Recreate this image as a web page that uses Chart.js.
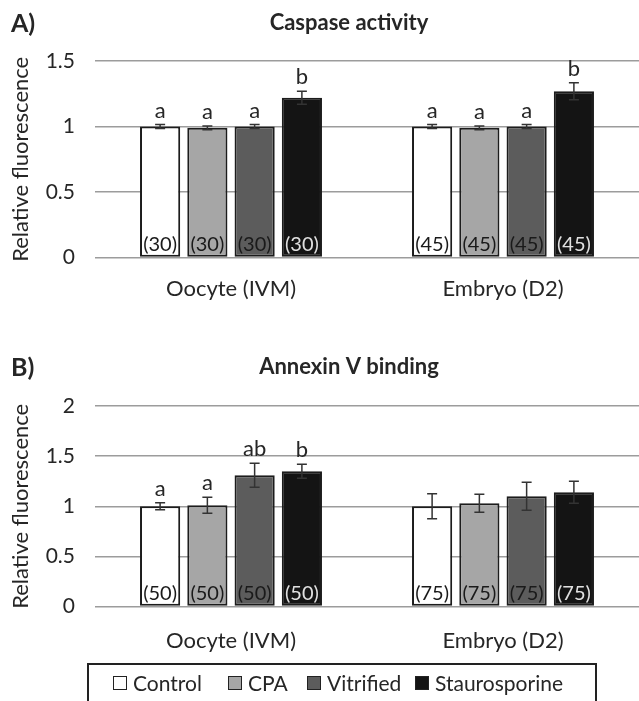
<!DOCTYPE html>
<html>
<head>
<meta charset="utf-8">
<script src="https://cdn.jsdelivr.net/npm/chart.js@4.4.1/dist/chart.umd.min.js"></script>
<style>
  html, body { margin: 0; padding: 0; background: #fff; }
  body { width: 639px; height: 701px; position: relative; overflow: hidden; font-family: Lato, sans-serif; }
  #wrapA { position: absolute; left: 0; top: 0; width: 639px; height: 320px; }
  #wrapB { position: absolute; left: 0; top: 300px; width: 639px; height: 383px; }
  #legend { position: absolute; left: 87px; top: 663px; width: 506px; height: 60px; border: 2px solid #222; background: transparent; }
  .item { position: absolute; top: 5px; display: flex; align-items: center; font-size: 21px; color: #262626; }
  .swatch { width: 12px; height: 12px; border: 1.5px solid #222; margin-right: 6px; }
</style>
</head>
<body>
<div id="wrapA"><canvas id="chartA"></canvas></div>
<div id="wrapB"><canvas id="chartB"></canvas></div>
<div id="legend"></div>

<script>
// categories and series
const categories = ['Oocyte (IVM)', 'Embryo (D2)'];
const seriesNames = ['Control', 'CPA', 'Vitrified', 'Staurosporine'];
const seriesColors = ['#ffffff', '#a6a6a6', '#5c5c5c', '#141414'];
const countColors = ['#1a1a1a', '#1a1a1a', '#1a1a1a', '#e0e0e0'];

// A) Caspase activity
const casControl = [1.00, 1.00];
const casCPA = [0.99, 0.99];
const casVitrified = [1.00, 1.00];
const casStauro = [1.22, 1.27];
const casControlErr = [0.015, 0.015];
const casCPAErr = [0.015, 0.015];
const casVitrifiedErr = [0.015, 0.015];
const casStauroErr = [0.05, 0.065];
const casLetters = [['a', 'a'], ['a', 'a'], ['a', 'a'], ['b', 'b']];
const casN = [30, 45];
const casTicks = [0, 0.5, 1, 1.5];

// B) Annexin V binding
const annControl = [1.00, 1.00];
const annCPA = [1.01, 1.03];
const annVitrified = [1.31, 1.10];
const annStauro = [1.35, 1.14];
const annControlErr = [0.035, 0.125];
const annCPAErr = [0.08, 0.09];
const annVitrifiedErr = [0.12, 0.14];
const annStauroErr = [0.07, 0.11];
const annLetters = [['a', ''], ['a', ''], ['ab', ''], ['b', '']];
const annN = [50, 75];
const annTicks = [0, 0.5, 1, 1.5, 2];

const FONT = 'Lato, sans-serif';
const TEXT = '#262626';

// error bars, significance letters, n counts, panel label and title
const notesPlugin = {
    id: 'notes',
    afterDatasetsDraw(chart, args, opts) {
        const ctx = chart.ctx;
        const y = chart.scales.y;
        ctx.save();
        chart.data.datasets.forEach((ds, i) => {
            const meta = chart.getDatasetMeta(i);
            meta.data.forEach((bar, j) => {
                const v = ds.data[j];
                const e = ds.errors[j];
                const yTop = y.getPixelForValue(v + e);
                const yBot = y.getPixelForValue(v - e);
                ctx.strokeStyle = '#333';
                ctx.lineWidth = 1.5;
                ctx.beginPath();
                ctx.moveTo(bar.x, yTop); ctx.lineTo(bar.x, yBot);
                ctx.moveTo(bar.x - 5, yTop); ctx.lineTo(bar.x + 5, yTop);
                ctx.moveTo(bar.x - 5, yBot); ctx.lineTo(bar.x + 5, yBot);
                ctx.stroke();

                ctx.textAlign = 'center';
                ctx.textBaseline = 'alphabetic';
                if (ds.letters[j]) {
                    ctx.font = '22px ' + FONT;
                    ctx.fillStyle = TEXT;
                    ctx.fillText(ds.letters[j], bar.x, yTop - 7);
                }
                ctx.font = '20px ' + FONT;
                ctx.fillStyle = countColors[i];
                ctx.fillText('(' + opts.counts[j] + ')', bar.x, y.getPixelForValue(0) - 7);
            });
        });
        ctx.fillStyle = TEXT;
        ctx.textAlign = 'left';
        ctx.font = 'bold 25px ' + FONT;
        ctx.fillText(opts.label, 11, opts.baseline + 2);
        ctx.textAlign = 'center';
        ctx.font = 'bold 22px ' + FONT;
        ctx.fillText(opts.title, 349, opts.baseline);
        ctx.restore();
    }
};

function buildChart(id, values, errors, letters, counts, ticks, label, title, baseline, pad, xPad) {
    const datasets = seriesNames.map((name, i) => ({
        label: name,
        data: values[i],
        errors: errors[i],
        letters: letters[i],
        backgroundColor: seriesColors[i],
        borderColor: '#1c1c1c',
        borderWidth: 2,
        borderSkipped: false,
        categoryPercentage: 0.695,
        barPercentage: 0.85
    }));

    return new Chart(document.getElementById(id), {
        type: 'bar',
        data: { labels: categories, datasets },
        options: {
            responsive: true,
            maintainAspectRatio: false,
            animation: false,
            layout: { padding: pad },
            plugins: {
                legend: { display: false },
                tooltip: { enabled: false },
                notes: { counts, label, title, baseline }
            },
            scales: {
                x: {
                    grid: { display: false, drawTicks: false },
                    border: { display: false },
                    ticks: { padding: xPad, color: TEXT, font: { family: FONT, size: 22 } }
                },
                y: {
                    min: 0,
                    max: ticks[ticks.length - 1],
                    afterBuildTicks: scale => { scale.ticks = ticks.map(v => ({ value: v })); },
                    afterFit: scale => { scale.width = 95 - pad.left; },
                    grid: { color: '#9c9c9c', lineWidth: 1.5, drawTicks: false },
                    border: { display: false },
                    ticks: {
                        padding: 20,
                        color: TEXT,
                        font: { family: FONT, size: 21 },
                        callback: v => String(v)
                    },
                    title: {
                        display: true,
                        text: 'Relative fluorescence',
                        color: TEXT,
                        font: { family: FONT, size: 22 },
                        padding: { top: 0, bottom: 4 }
                    }
                }
            }
        },
        plugins: [notesPlugin]
    });
}

buildChart('chartA',
    [casControl, casCPA, casVitrified, casStauro],
    [casControlErr, casCPAErr, casVitrifiedErr, casStauroErr],
    casLetters, casN, casTicks, 'A)', 'Caspase activity', 30,
    { left: 8, right: 0, top: 61, bottom: 0 }, 18);

buildChart('chartB',
    [annControl, annCPA, annVitrified, annStauro],
    [annControlErr, annCPAErr, annVitrifiedErr, annStauroErr],
    annLetters, annN, annTicks, 'B)', 'Annexin V binding', 74,
    { left: 8, right: 0, top: 106, bottom: 8 }, 21);

// legend
const legendLeft = [24, 139, 218, 326];
const legend = document.getElementById('legend');
seriesNames.forEach((name, i) => {
    const item = document.createElement('div');
    item.className = 'item';
    item.style.left = legendLeft[i] + 'px';
    item.innerHTML = '<div class="swatch" style="background:' + seriesColors[i] + '"></div><span>' + name + '</span>';
    legend.appendChild(item);
});
</script>
</body>
</html>
